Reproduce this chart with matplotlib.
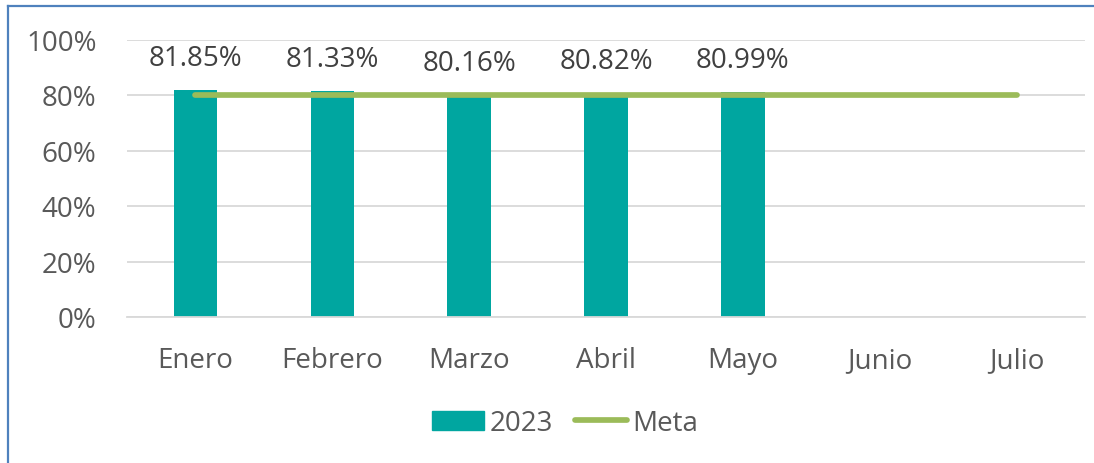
import matplotlib
matplotlib.use("Agg")
import matplotlib.pyplot as plt
from matplotlib.lines import Line2D
import numpy as np

categories = ["Enero", "Febrero", "Marzo", "Abril", "Mayo", "Junio", "Julio"]
values_2023 = [81.85, 81.33, 80.16, 80.82, 80.99]
meta = [80, 80, 80, 80, 80, 80, 80]
yticks = [0, 20, 40, 60, 80, 100]

plt.rcParams['font.family'] = ['Open Sans', 'DejaVu Sans']

W, H = 1094, 464
fig = plt.figure(figsize=(W / 100, H / 100), dpi=100)
ax = fig.add_axes([127 / W, 1 - 318 / H, (1085 - 127) / W, (318 - 40.5) / H])

x = np.arange(len(categories))
bar_color = "#00A6A0"
line_color = "#9BBB59"
tick_color = "#595959"

ax.bar(x[:len(values_2023)], values_2023, width=0.317, color=bar_color, zorder=2, label="2023")
ax.plot(x, meta, color=line_color, linewidth=4.1, solid_capstyle="round", zorder=3, label="Meta")

for xi, v in zip(x, values_2023):
    ax.annotate(f"{v:.2f}%", (xi, v), xytext=(0, 23), textcoords="offset points",
                ha="center", va="center", fontsize=20, color="#404040", zorder=4)

ax.set_xlim(-0.5, len(categories) - 0.5)
ax.set_ylim(0, 100)
ax.set_yticks(yticks)
ax.set_yticklabels([f"{t}%" for t in yticks])
ax.set_xticks(x)
ax.set_xticklabels(categories)
ax.tick_params(axis="both", length=0, labelsize=20, labelcolor=tick_color)
ax.tick_params(axis="y", pad=22)
ax.tick_params(axis="x", pad=21)
ax.grid(axis="y", color="#D9D9D9", linewidth=1.3, zorder=0)
ax.set_axisbelow(True)
for s in ["top", "right", "left"]:
    ax.spines[s].set_visible(False)
ax.spines["bottom"].set_color("#D9D9D9")
ax.spines["bottom"].set_linewidth(1.3)

handles = [plt.Rectangle((0, 0), 1, 1, color=bar_color),
           Line2D([0], [0], color=line_color, linewidth=4.1, solid_capstyle="round")]
fig.legend(handles, ["2023", "Meta"], loc="center", bbox_to_anchor=(565 / W, 1 - 424 / H),
           ncol=2, frameon=False, fontsize=20, handlelength=1.87, handletextpad=0.2,
           columnspacing=0.8, labelcolor=tick_color)

border = "#4F81BD"
fig.add_artist(Line2D([8 / W, 8 / W], [0, 1 - 7 / H], transform=fig.transFigure, color=border, linewidth=1.6))
fig.add_artist(Line2D([8 / W, 1], [1 - 7 / H, 1 - 7 / H], transform=fig.transFigure, color=border, linewidth=1.6))

fig.savefig("out.png", dpi=100)
